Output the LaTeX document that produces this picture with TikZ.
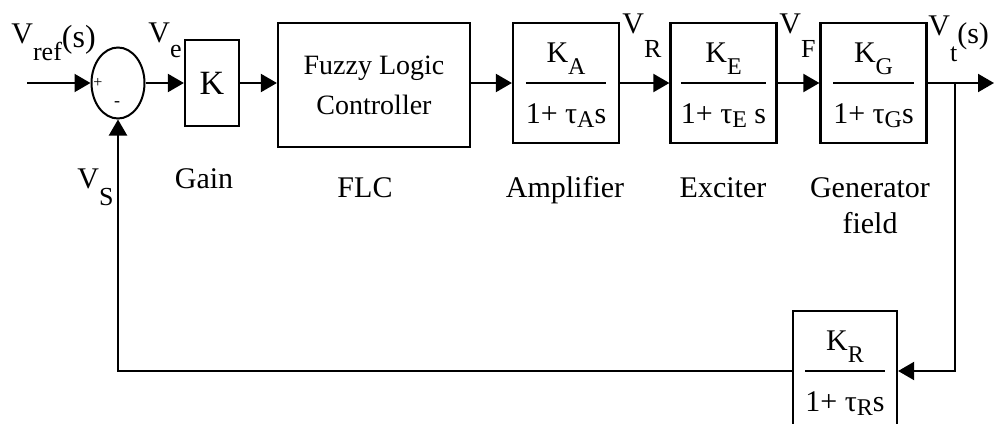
\documentclass[tikz,border=0pt]{standalone}
\usepackage{fontspec}
\setmainfont{Liberation Serif}
\usetikzlibrary{positioning,arrows.meta,shapes.geometric}
\setlength{\arrayrulewidth}{1pt}
% fraction inside a block, rule at the middle of the box
\newcommand{\fracstrut}{\rule[-10pt]{0pt}{29.5pt}}
\newcommand{\blkfrac}[2]{\begin{tabular}{@{}c@{}}\fracstrut#1\\\hline\fracstrut#2\end{tabular}}
\newcommand{\blksub}[2][6pt]{\raisebox{-#1}{\fontsize{12}{12}\selectfont #2}}
\newcommand{\lowsub}[2][8pt]{\raisebox{-#1}{\fontsize{13}{13}\selectfont #2}}
\newcommand{\argpar}[2][2pt]{\raisebox{-#1}{\fontsize{#2}{#2}\selectfont (s)}}

\begin{document}
\begin{tikzpicture}[
  x=0.5pt, y=-0.5pt,
  font=\fontsize{15}{18}\selectfont,
  blk/.style={draw, line width=1.1pt, inner sep=0pt,
              font=\fontsize{15}{18}\selectfont},
  sig/.style={line width=1pt, -{Triangle[length=8pt,width=9pt]}},
  lbl/.style={inner sep=0pt, anchor=base west},
  blkcaption/.style={inner sep=0pt, anchor=base, align=center}
]
  \useasboundingbox (0,0) rectangle (995,423);

  % blocks of the forward path
  \node[draw, line width=1pt, ellipse, minimum width=26.5pt,
        minimum height=35.5pt, inner sep=0pt] (sum) at (118,83) {};
  \node[blk, minimum width=27pt, minimum height=43pt,
        font=\fontsize{17}{20}\selectfont] (gain) at (212,83) {K};
  \node[blk, minimum width=96pt, minimum height=62pt, align=center,
        font=\fontsize{14}{20}\selectfont] (flc) at (374,85)
    {Fuzzy Logic\\Controller};
  \node[blk, minimum width=53pt, minimum height=56pt] (amp) at (566,83)
    {\blkfrac{K\blksub{A}}{1+ τ\blksub[2pt]{A}s}};
  \node[blk, minimum width=53pt, minimum height=56pt] (exc) at (723.5,83)
    {\blkfrac{K\blksub{E}}{1+ τ\blksub[2pt]{E} s}};
  \node[blk, minimum width=53pt, minimum height=56pt] (gen) at (873.5,83)
    {\blkfrac{K\blksub{G}}{1+ τ\blksub[2pt]{G}s}};

  % feedback block
  \node[blk, minimum width=52pt, minimum height=58pt] (fb) at (845,371)
    {\blkfrac{K\blksub{R}}{1+ τ\blksub[2pt]{R}s}};

  \coordinate (in) at (27,83);
  \coordinate (br) at (955,83);
  \coordinate (out) at (994,83);

  % signs at the summing point
  \node[font=\fontsize{8}{9}\selectfont, inner sep=0pt] (plus) at (98,83) {+};
  \node[font=\fontsize{9}{9}\selectfont, inner sep=0pt] (minus) at (117,104) {-};

  % signal labels
  \node[lbl] (vref) at (11,43) {V\lowsub[8.5pt]{ref}\argpar{16}};
  \node[lbl] (ve) at (148,42) {V\lowsub[7.5pt]{e}};
  \node[lbl] (vs) at (77,188) {V\lowsub[8.5pt]{S}};
  \node[lbl] (vr) at (622,33) {V\lowsub[12pt]{R}};
  \node[lbl] (vf) at (779,33) {V\lowsub[12pt]{F}};
  \node[lbl] (vt) at (928,35) {V\lowsub[13pt]{t}\argpar[4pt]{15}};

  % block captions
  \node[blkcaption] (capgain) at (204,188) {Gain};
  \node[blkcaption] (capflc) at (365,197) {FLC};
  \node[blkcaption] (capamp) at (565,197) {Amplifier};
  \node[blkcaption] (capexc) at (723,197) {Exciter};
  \node[blkcaption] (capgen) at (870,233) {Generator\\field};

  % connectors
  \draw[sig] (in) -- (sum.west);
  \draw[sig] (sum.east) -- (gain.west);
  \draw[sig] (gain.east) -- (flc.west |- gain.east);
  \draw[sig] (flc.east |- amp.west) -- (amp.west);
  \draw[sig] (amp.east) -- (exc.west);
  \draw[sig] (exc.east) -- (gen.west);
  \draw[sig] (gen.east) -- (out);
  \draw[sig] (br) |- (fb.east);
  \draw[sig] (fb.west) -| (sum.south);
\end{tikzpicture}
\end{document}
